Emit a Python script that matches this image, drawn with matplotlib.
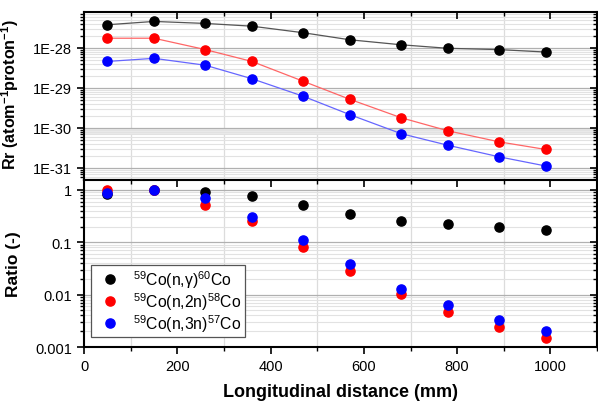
import math
import matplotlib
matplotlib.use('Agg')
import matplotlib.pyplot as plt
from matplotlib.ticker import FuncFormatter, LogLocator, NullFormatter, MultipleLocator, FixedLocator

plt.rcParams['font.family'] = ['Liberation Sans', 'DejaVu Sans']
plt.rcParams['mathtext.fontset'] = 'custom'
plt.rcParams['mathtext.rm'] = 'Liberation Sans'
plt.rcParams['mathtext.it'] = 'Liberation Sans:italic'
plt.rcParams['mathtext.bf'] = 'Liberation Sans:bold'

# ---- data ----
distance = [50, 150, 260, 360, 470, 570, 680, 780, 890, 990]
rr_ng = [3.8e-28, 4.6e-28, 4.1e-28, 3.5e-28, 2.4e-28, 1.6e-28, 1.2e-28, 9.8e-29, 9.1e-29, 7.9e-29]
rr_2n = [1.75e-28, 1.75e-28, 9.1e-29, 4.6e-29, 1.47e-29, 5.2e-30, 1.8e-30, 8.5e-31, 4.5e-31, 2.9e-31]
rr_3n = [4.6e-29, 5.5e-29, 3.7e-29, 1.7e-29, 6.2e-30, 2.15e-30, 7.2e-31, 3.7e-31, 1.9e-31, 1.12e-31]
ratio_ng = [0.83, 1.0, 0.92, 0.77, 0.52, 0.35, 0.26, 0.22, 0.20, 0.17]
ratio_2n = [1.0, 1.0, 0.52, 0.26, 0.082, 0.028, 0.0101, 0.0047, 0.0024, 0.0015]
ratio_3n = [0.86, 1.0, 0.70, 0.31, 0.11, 0.039, 0.013, 0.0064, 0.0033, 0.0020]
labels = [r'$^{59}$Co(n,γ)$^{60}$Co', r'$^{59}$Co(n,2n)$^{58}$Co', r'$^{59}$Co(n,3n)$^{57}$Co']
xticks = [0, 200, 400, 600, 800, 1000]

colors = ['black', 'red', 'blue']
line_colors = ['#555555', '#ff6666', '#6666ff']

fig = plt.figure(figsize=(5.98, 4.02), dpi=100)
ax1 = fig.add_axes([0.1405, 0.5498, 0.858, 0.418])
ax2 = fig.add_axes([0.1405, 0.1343, 0.858, 0.4155])

ms = 6.6
for rr, c, lc in zip([rr_ng, rr_2n, rr_3n], colors, line_colors):
    ax1.plot(distance, rr, '-', color=lc, lw=0.9, zorder=3)
    ax1.plot(distance, rr, 'o', color=c, ms=ms, zorder=4)

for rt, c, lab in zip([ratio_ng, ratio_2n, ratio_3n], colors, labels):
    ax2.plot(distance, rt, 'o', color=c, ms=ms, label=lab, zorder=4)

ax1.set_ylim(10**-31.3, 10**-27.1)
ax2.set_ylim(0.001, 10**0.19)

for ax in (ax1, ax2):
    ax.set_yscale('log')
    ax.set_xlim(0, 1100)
    ax.xaxis.set_major_locator(FixedLocator(xticks))
    ax.xaxis.set_minor_locator(MultipleLocator(100))
    ax.yaxis.set_major_locator(LogLocator(base=10, numticks=20))
    ax.yaxis.set_minor_locator(LogLocator(base=10, subs=range(2, 10), numticks=20))
    ax.yaxis.set_minor_formatter(NullFormatter())
    ax.tick_params(axis='both', which='major', direction='out', length=5, width=1.2, labelsize=10.5)
    ax.tick_params(axis='both', which='minor', direction='out', length=3, width=1.0)
    for s in ax.spines.values():
        s.set_linewidth(1.5)
    ax.grid(True, axis='y', which='major', color='#b0b0b0', lw=0.9, zorder=0)
    ax.grid(True, axis='y', which='minor', color='#e2e2e2', lw=0.8, zorder=0)
    for gx in [100, 300, 500, 700, 900]:
        ax.axvline(gx, color='#dcdcdc', lw=0.9, zorder=0)

for ax in (ax1, ax2):
    # mirrored inward ticks via twin axes
    tx = ax.twiny()
    tx.set_xlim(ax.get_xlim())
    tx.xaxis.set_major_locator(FixedLocator(xticks))
    tx.xaxis.set_minor_locator(MultipleLocator(100))
    tx.tick_params(axis='x', which='major', direction='in', length=5, width=1.2, labeltop=False)
    tx.tick_params(axis='x', which='minor', direction='in', length=3, width=1.0)
    for s in tx.spines.values():
        s.set_visible(False)
    ty = ax.twinx()
    ty.set_yscale('log')
    ty.set_ylim(ax.get_ylim())
    ty.yaxis.set_major_locator(LogLocator(base=10, numticks=20))
    ty.yaxis.set_minor_locator(LogLocator(base=10, subs=range(2, 10), numticks=20))
    ty.yaxis.set_major_formatter(NullFormatter())
    ty.yaxis.set_minor_formatter(NullFormatter())
    ty.tick_params(axis='y', which='major', direction='in', length=5, width=1.2)
    ty.tick_params(axis='y', which='minor', direction='in', length=3, width=1.0)
    for s in ty.spines.values():
        s.set_visible(False)

ax1.axhspan(6.5e-31, 1e-30, color='#ebebeb', zorder=0, lw=0)
ax1.yaxis.set_major_formatter(FuncFormatter(lambda v, p: '1E%d' % round(math.log10(v))))
ax1.tick_params(axis='x', labelbottom=False)
ax2.yaxis.set_major_formatter(FuncFormatter(lambda v, p: ('%g' % v)))

ax1.set_ylabel(r'Rr (atom$^{\mathbf{-1}}$proton$^{\mathbf{-1}}$)', fontsize=11.6, fontweight='bold')
ax1.yaxis.set_label_coords(-0.122, 0.515)
ax2.set_ylabel('Ratio (-)', fontsize=12.5, fontweight='bold')
ax2.yaxis.set_label_coords(-0.122, 0.5)
ax2.set_xlabel('Longitudinal distance (mm)', fontsize=13, fontweight='bold', va='center')
ax2.xaxis.set_label_coords(0.5, -0.265)

leg = ax2.legend(loc='lower left', bbox_to_anchor=(0.0136, 0.06), borderaxespad=0, fontsize=11.3,
                 frameon=True, fancybox=False, edgecolor='#555555', framealpha=1,
                 handletextpad=0.5, borderpad=0.2, labelspacing=0.02, handlelength=2.0)
leg.get_frame().set_linewidth(0.9)
leg.set_zorder(10)

fig.savefig('out.png', dpi=100)
